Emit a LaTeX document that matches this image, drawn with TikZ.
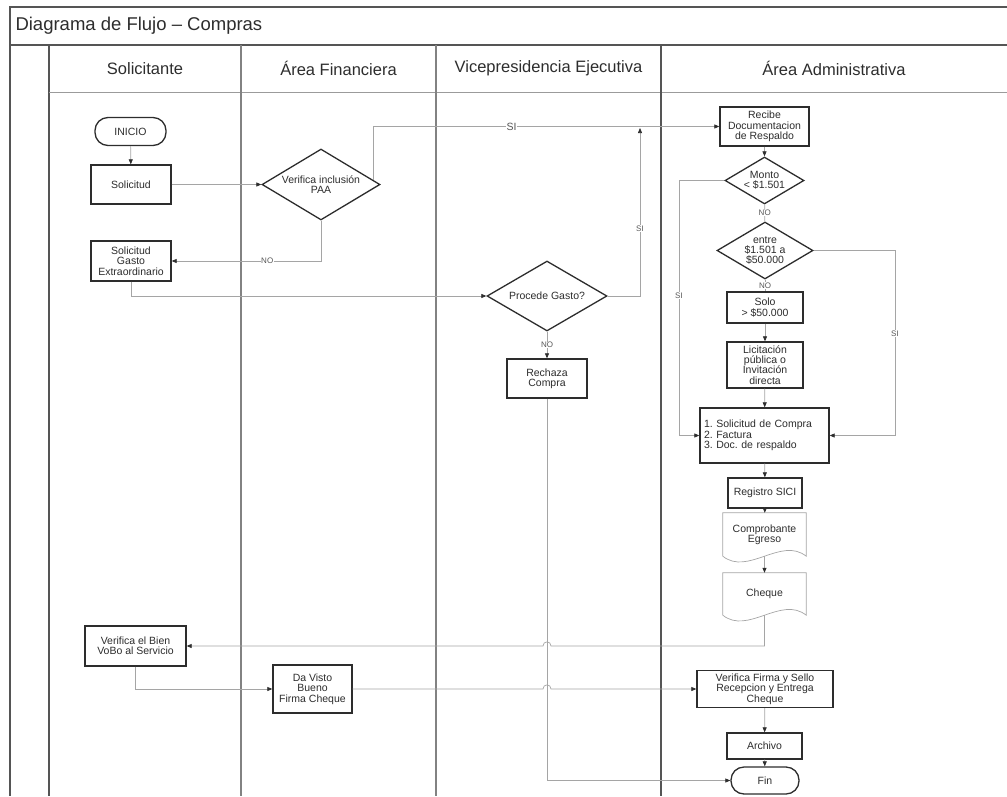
\documentclass[tikz,border=0pt]{standalone}
\usepackage{fontspec}
\setmainfont{Liberation Sans}
\usetikzlibrary{arrows.meta,shapes.geometric,calc}
\definecolor{trazo}{RGB}{45,45,45}
\definecolor{conector}{RGB}{165,165,165}
\definecolor{marco}{RGB}{85,85,85}
\definecolor{carril}{RGB}{130,130,130}
\frenchspacing

\begin{document}
\begin{tikzpicture}[x=1pt, y=-1pt,
    caja/.style={rectangle, draw=trazo, line width=1.3pt, fill=white, inner sep=1pt, align=center, text=trazo, font=\fontsize{10.5}{10.3}\selectfont},
    decision/.style={diamond, draw=trazo, line width=1.3pt, fill=white, inner sep=0pt, align=center, text=trazo, font=\fontsize{10.5}{10.3}\selectfont},
    terminal/.style={caja, rounded corners=13pt},
    documento/.style={rectangle, inner sep=1pt, align=center, text=trazo, font=\fontsize{10.5}{10.3}\selectfont},
    flecha/.style={draw=conector, line width=0.7pt, -{Triangle[length=5pt,width=4pt,color=trazo]}},
    linea/.style={draw=conector, line width=0.7pt},
    etiqueta/.style={fill=white, inner sep=0.5pt, text=trazo!80, font=\fontsize{8}{8}\selectfont},
    cabecera/.style={text=trazo, font=\fontsize{16.5}{16.5}\selectfont}]
        \useasboundingbox (0,0) rectangle (1007,796);
        % marco y carriles
        \draw[marco, line width=1.2pt] (1007,7) -- (10,7) -- (10,796);
        \draw[marco, line width=1.2pt] (10,45) -- (1007,45);
        \draw[marco, line width=1.2pt] (49,45) -- (49,796);
        \draw[carril!80, line width=1pt] (49,92) -- (1007,92);
        \foreach \x in {241,436}
          \draw[carril, line width=1.1pt] (\x,45) -- (\x,796);
        \draw[marco, line width=1.2pt] (661,45) -- (661,796);
        \node[anchor=west, text=trazo, font=\fontsize{18.5}{18.5}\selectfont] (titulo) at (12,26) {Diagrama de Flujo – Compras};
        \node[cabecera] (solicitante) at (145,68.5) {Solicitante};
        \node[cabecera] (financiera) at (338.5,68.5) {Área Financiera};
        \node[cabecera] (vicepresidencia) at (548.5,68.5) {Vicepresidencia Ejecutiva};
        \node[cabecera] (administrativa) at (834,68.5) {Área Administrativa};
        % Solicitante
        \node[terminal, minimum width=71pt, minimum height=28pt] (inicio) at (130.5,131.5) {INICIO};
        \node[caja, minimum width=80pt, minimum height=39pt] (solicitud) at (131,184.5) {Solicitud};
        \node[caja, minimum width=80pt, minimum height=40pt] (gasto) at (131,261) {Solicitud\\Gasto\\Extraordinario};
        \node[caja, minimum width=101pt, minimum height=40pt] (bien) at (135.5,646) {Verifica el Bien\\VoBo al Servicio};
        % Área Financiera
        \node[decision, minimum width=118pt, minimum height=71pt, aspect=1.66] (paa) at (321,184.5) {Verifica inclusión\\PAA};
        \node[caja, minimum width=79pt, minimum height=48pt] (visto) at (312.5,689) {Da Visto\\Bueno\\Firma Cheque};
        % Vicepresidencia Ejecutiva
        \node[decision, minimum width=120pt, minimum height=70pt, aspect=1.71] (procede) at (547,296) {Procede Gasto?};
        \node[caja, minimum width=80pt, minimum height=39pt] (rechaza) at (547,378.5) {Rechaza\\Compra};
        % Área Administrativa
        \node[caja, minimum width=89pt, minimum height=39pt] (recibe) at (764.5,126.5) {Recibe\\Documentacion\\de Respaldo};
        \node[decision, minimum width=79pt, minimum height=47pt, aspect=1.68] (monto) at (764.5,180.5) {Monto\\< \$1.501};
        \node[decision, minimum width=96pt, minimum height=57pt, aspect=1.68] (entre) at (765,250.5) {entre\\\$1.501 a\\\$50.000};
        \node[caja, minimum width=76pt, minimum height=31pt] (solo) at (765,307.5) {Solo\\> \$50.000};
        \node[caja, minimum width=76pt, minimum height=46pt] (licitacion) at (765,365) {Licitación\\pública o\\Invitación\\directa};
        \node[caja, text width=121pt, inner sep=4pt, minimum height=55pt, align=left] (papeles) at (764.5,435.5) {1. Solicitud de Compra\\2. Factura\\3. Doc. de respaldo};
        \node[caja, minimum width=74pt, minimum height=30pt] (registro) at (765,493) {Registro SICI};
        \node[documento, minimum width=83pt, minimum height=43pt] (comprobante) at (764.5,534.5) {Comprobante\\Egreso};
        \node[documento, minimum width=83pt, minimum height=42pt] (cheque) at (764.5,594) {Cheque};
        \node[caja, minimum width=136pt, minimum height=37pt] (firma) at (765,689) {Verifica Firma y Sello\\Recepcion y Entrega\\Cheque};
        \node[caja, minimum width=75pt, minimum height=26pt] (archivo) at (764.5,746) {Archivo};
        \node[terminal, minimum width=68pt, minimum height=27pt] (fin) at (765,780.5) {Fin};
        % hojas con borde ondulado
        \foreach \hoja in {comprobante,cheque}
          \draw[linea] (\hoja.south west) -- (\hoja.north west) -- (\hoja.north east) -- (\hoja.south east)
            .. controls ($(\hoja.south east)+(-25,-20)$) and ($(\hoja.south west)+(25,20)$) .. (\hoja.south west);
        % conectores
        \draw[flecha] (inicio) -- (solicitud);
        \draw[flecha] (solicitud) -- (paa);
        \draw[flecha] (paa.south) |- node[etiqueta, pos=0.68] {NO} (gasto.east);
        \draw[flecha] (gasto.south) |- (procede.west);
        \draw[flecha] (paa.5) |- node[etiqueta, pos=0.7, font=\fontsize{10.5}{10.5}\selectfont] {SI} (recibe.west);
        \coordinate (junta) at (640,128);
        \draw[flecha] (procede.east) -| node[etiqueta, pos=0.7] {SI} (junta);
        \draw[flecha] (procede) -- node[etiqueta] {NO} (rechaza);
        \draw[flecha] (rechaza.south) |- (fin.west);
        \draw[flecha] (recibe) -- (monto);
        \draw[linea] (monto) -- node[etiqueta] {NO} (entre);
        \draw[linea] (entre) -- node[etiqueta] {NO} (solo);
        \coordinate (izq) at (679,180.5);
        \draw[flecha] (monto.west) -- (izq) -- node[etiqueta, pos=0.45] {SI} (izq |- papeles.west) -- (papeles.west);
        \coordinate (der) at (895,250.5);
        \draw[flecha] (entre.east) -- (der) -- node[etiqueta, pos=0.45] {SI} (der |- papeles.east) -- (papeles.east);
        \draw[flecha] (solo) -- (licitacion);
        \draw[flecha] (licitacion) -- (papeles);
        \draw[flecha] (papeles) -- (registro);
        \draw[flecha] (registro) -- (comprobante);
        \draw[flecha] (comprobante.south) -- (cheque.north);
        % saltos sobre la linea de Rechaza
        \coordinate (salto1) at (rechaza.south |- bien.east);
        \coordinate (salto2) at (rechaza.south |- visto.east);
        \draw[flecha] (cheque.south) |- ($(salto1)+(4,0)$) .. controls ($(salto1)+(4,-5.5)$) and ($(salto1)+(-4,-5.5)$) .. ($(salto1)+(-4,0)$) -- (bien.east);
        \draw[flecha] (bien.south) |- (visto.west);
        \draw[flecha] (visto.east) -- ($(salto2)+(-4,0)$) .. controls ($(salto2)+(-4,-5.5)$) and ($(salto2)+(4,-5.5)$) .. ($(salto2)+(4,0)$) -- (firma.west);
        \draw[flecha] (firma) -- (archivo);
        \draw[flecha] (archivo) -- (fin);
      \end{tikzpicture}
\end{document}
